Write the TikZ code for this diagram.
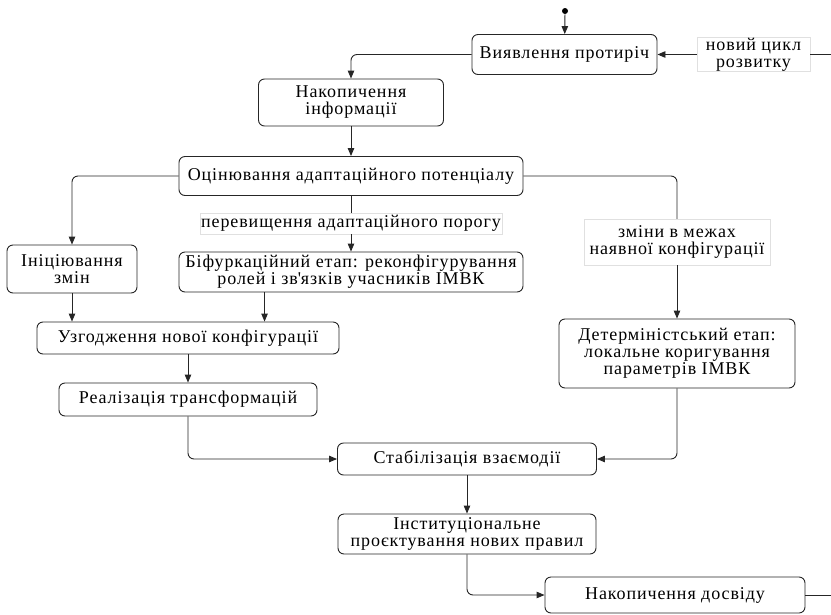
\documentclass[tikz,border=0pt]{standalone}
\usepackage{fontspec}
\setmainfont{Liberation Serif}[LetterSpace=5]
\usepackage{tikz}
\usetikzlibrary{arrows.meta}

\begin{document}
\begin{tikzpicture}[x=1pt, y=-1pt, line width=0.9pt,
    stage/.style={draw=black!85, rounded corners=6pt, align=center, inner sep=0pt,
      font=\fontsize{18}{17}\selectfont},
    cond/.style={draw=black!12, fill=white, line width=0.5pt, align=center, inner sep=0pt,
      font=\fontsize{18}{17}\selectfont},
    flow/.style={draw=black!85, rounded corners=6pt, -{Triangle[length=8pt,width=6.5pt]}},
    link/.style={draw=black!85, rounded corners=6pt}]
      \useasboundingbox (0,0) rectangle (831,614);
      \node[circle, fill=black, inner sep=0pt, minimum size=6pt] (start) at (565,11) {};
      \node[stage, minimum width=185pt, minimum height=40pt] (detect) at (564.5,54.5) {Виявлення протиріч};
      \node[cond, minimum width=113pt, minimum height=34pt] (cycle) at (753.5,54.5) {новий цикл\\розвитку};
      \node[stage, minimum width=185pt, minimum height=47pt] (accinfo) at (351,102.5) {Накопичення\\інформації};
      \node[stage, minimum width=344pt, minimum height=39pt] (assess) at (351,176) {Оцінювання адаптаційного потенціалу};
      \node[stage, minimum width=130pt, minimum height=48pt] (init) at (72,269) {Ініціювання\\змін};
      \node[cond, minimum width=302pt, minimum height=21pt] (exceed) at (351,223.5) {перевищення адаптаційного порогу};
      \node[stage, minimum width=344pt, minimum height=40pt] (bifurc) at (351,272) {Біфуркаційний етап: реконфігурування\\ролей і зв\textquotesingle язків учасників ІМВК};
      \node[cond, minimum width=186pt, minimum height=46pt] (within) at (677,242) {зміни в межах\\наявної конфігурації};
      \node[stage, minimum width=236pt, minimum height=69pt] (determ) at (677,353.5) {Детерміністський етап:\\локальне коригування\\параметрів ІМВК};
      \node[stage, minimum width=302pt, minimum height=32pt] (agree) at (188,338) {Узгодження нової конфігурації};
      \node[stage, minimum width=258pt, minimum height=33pt] (impl) at (188,399.5) {Реалізація трансформацій};
      \node[stage, minimum width=259pt, minimum height=32pt] (stabil) at (467,459) {Стабілізація взаємодії};
      \node[stage, minimum width=258pt, minimum height=40pt] (instit) at (467,534) {Інституціональне\\проєктування нових правил};
      \node[stage, minimum width=260pt, minimum height=36pt] (accexp) at (675,595) {Накопичення досвіду};
      \coordinate (cycR) at (831,54.5);
      \coordinate (expR) at (831,595);
      % connectors
      \draw[flow] (start) -- (detect);
      \draw[link] (cycR) -- (cycle);
      \draw[flow] (cycle) -- (detect);
      \draw[flow] (detect.west) -| (accinfo.north);
      \draw[flow] (accinfo) -- (assess);
      \draw[flow] (assess.west) -| (init.north);
      \draw[link] (assess) -- (exceed);
      \draw[flow] (exceed) -- (bifurc);
      \draw[link] (assess.east) -| (within.north);
      \draw[flow] (within) -- (determ);
      \draw[flow] (init.south) -- (init.south |- agree.north);
      \draw[flow] ([xshift=86pt]bifurc.south west) -- ([xshift=86pt]bifurc.south west |- agree.north);
      \draw[flow] (agree) -- (impl);
      \draw[flow] (impl.south) |- (stabil.west);
      \draw[flow] (determ.south) |- (stabil.east);
      \draw[flow] (stabil) -- (instit);
      \draw[flow] (instit.south) |- (accexp.west);
      \draw[link] (accexp.east) -- (expR);
\end{tikzpicture}
\end{document}
